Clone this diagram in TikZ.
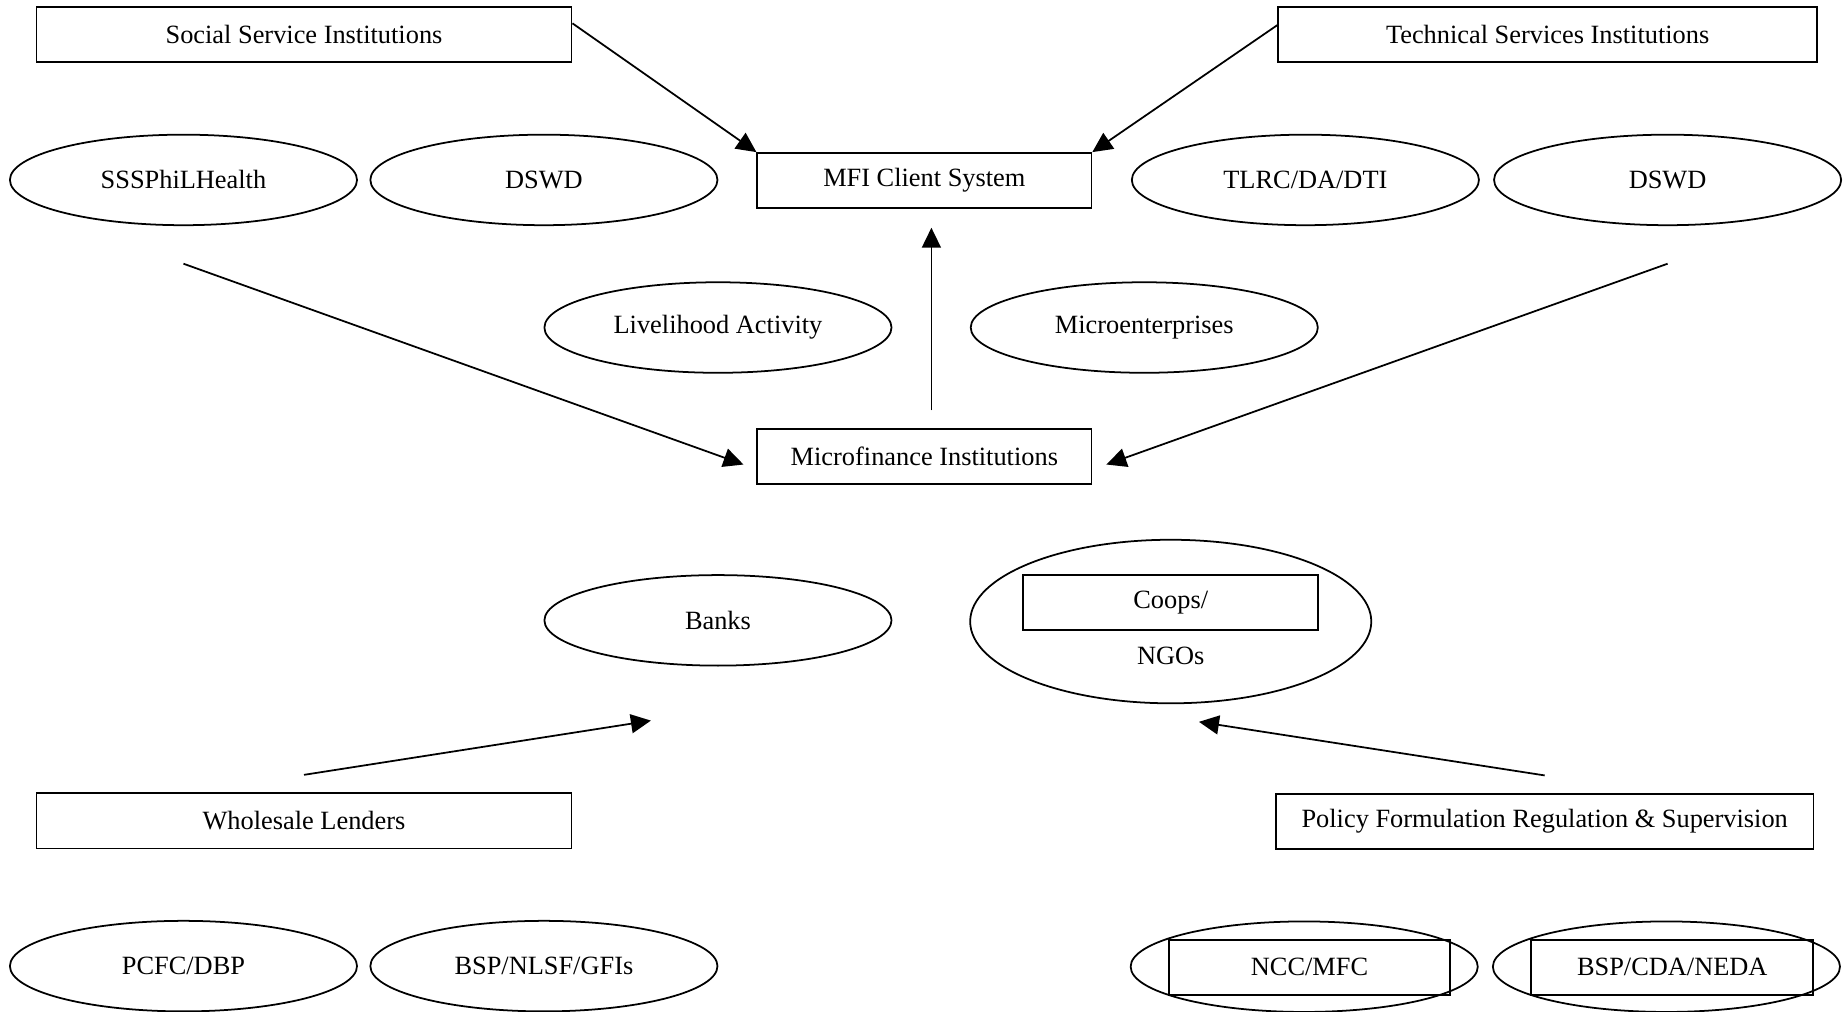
\documentclass[tikz,border=0pt]{standalone}
\usepackage{fontspec}
\setmainfont{Liberation Serif}
\usetikzlibrary{arrows.meta,shapes.geometric,calc}

\begin{document}
\begin{tikzpicture}[x=0.02352cm,y=-0.02352cm,line width=1pt,>={Triangle[length=4mm,width=3.8mm]},
  box/.style={draw,rectangle,minimum width=10.7cm,minimum height=1.1cm,inner sep=0pt,font=\fontsize{15}{18}\selectfont},
  oval/.style={draw,ellipse,minimum width=6.94cm,minimum height=1.81cm,inner sep=0pt,font=\fontsize{15}{18}\selectfont}]
  \clip (0,0) rectangle (1568,860);
  % fila superior
  \node[box] (ssi) at (258.5,29.5){Social Service Institutions};
  \node[box,minimum width=10.77cm] (tsi) at (1316,29.5){Technical Services Institutions};
  \node[oval] (sss) at (156,153){SSSPhiLHealth};
  \node[oval] (dswdl) at (462.5,153){DSWD};
  \node[box,minimum width=6.68cm] (mfi) at (786,153.5){MFI Client System};
  \node[oval] (tlrc) at (1110,153){TLRC/DA/DTI};
  \node[oval] (dswdr) at (1418,153){DSWD};
  % centro
  \node[oval] (live) at (610.5,278.5){Livelihood Activity};
  \node[oval] (micro) at (973,278.5){Microenterprises};
  \node[box,minimum width=6.68cm] (mfin) at (786,388){Microfinance Institutions};
  \node[oval] (banks) at (610.5,527.5){Banks};
  \node[oval,minimum width=8.02cm,minimum height=3.27cm] (coop) at (995.5,528.5){};
  \node[box,minimum width=5.9cm] (coopbox) at (995.5,512.5){Coops/};
  \node[font=\fontsize{15}{18}\selectfont] (ngo) at (995.5,558){NGOs};
  % fila inferior
  \node[box] (whole) at (258.5,698){Wholesale Lenders};
  \node[box,minimum width=10.75cm] (policy) at (1313.5,698.5){Policy Formulation Regulation \& Supervision};
  \node[oval] (pcfc) at (156,821.5){PCFC/DBP};
  \node[oval] (bspn) at (462.5,821.5){BSP/NLSF/GFIs};
  \node[oval] (ncc) at (1109,822){};
  \node[box,minimum width=5.62cm] (nccbox) at (1113.5,822.5){NCC/MFC};
  \node[oval] (bspc) at (1417,822){};
  \node[box,minimum width=5.64cm] (bspcbox) at (1422,822.5){BSP/CDA/NEDA};
  % flechas
  \draw[->] ($(ssi.north east)!0.3!(ssi.south east)$)--(mfi.north west);
  \draw[->] ($(tsi.north west)!0.33!(tsi.south west)$)--(mfi.north east);
  \draw[->] ($(sss.south)+(0,32)$)--($(mfin.west)+(-11,7)$);
  \draw[->] ($(dswdr.south)+(0,32)$)--($(mfin.east)+(12,7)$);
  \draw[->] ($(mfin.north)+(6,-15)$)--($(mfi.south)+(6,16)$);
  \draw[->] ($(whole.north)+(0,-15)$)--($(banks.south)+(-57,46)$);
  \draw[->] ($(policy.north)+(0,-15)$)--($(coop.south)+(24,15)$);
\end{tikzpicture}
\end{document}
